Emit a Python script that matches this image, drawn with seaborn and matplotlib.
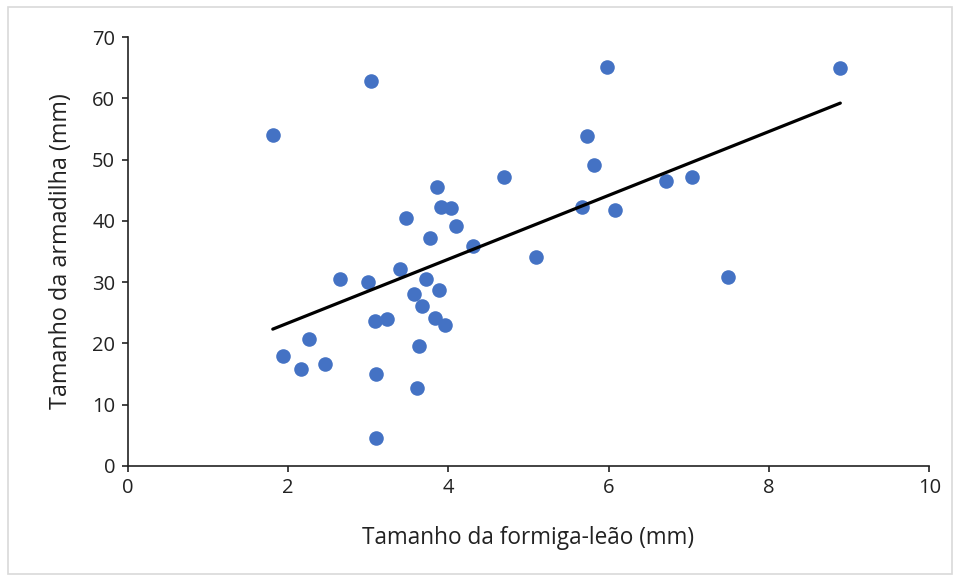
import numpy as np
import pandas as pd
import seaborn as sns
import matplotlib.pyplot as plt
from matplotlib.patches import Rectangle

# ant-lion body size vs trap size
formiga_mm = [1.81, 1.94, 2.16, 2.26, 2.46, 2.65, 3.00, 3.03, 3.08, 3.10,
              3.10, 3.23, 3.40, 3.47, 3.57, 3.61, 3.63, 3.67, 3.72, 3.77,
              3.84, 3.86, 3.88, 3.91, 3.96, 4.03, 4.10, 4.31, 4.69, 5.09,
              5.67, 5.73, 5.82, 5.98, 6.08, 6.72, 7.04, 7.49, 8.89]
armadilha_mm = [54.0, 18.0, 15.9, 20.7, 16.7, 30.5, 30.0, 62.8, 23.6, 15.0,
                4.6, 24.0, 32.1, 40.5, 28.1, 12.7, 19.6, 26.1, 30.5, 37.2,
                24.1, 45.6, 28.7, 42.3, 23.0, 42.1, 39.2, 35.9, 47.2, 34.1,
                42.3, 53.8, 49.1, 65.1, 41.8, 46.5, 47.2, 30.8, 64.9]

df = pd.DataFrame({'formiga': formiga_mm, 'armadilha': armadilha_mm})

sns.set_style('white')
plt.rcParams['font.family'] = ['Open Sans', 'DejaVu Sans']

fig = plt.figure(figsize=(9.6, 5.81), dpi=100)
ax = fig.add_axes([0.133, 0.198, 0.835, 0.738])

sns.regplot(data=df, x='formiga', y='armadilha', ci=None, ax=ax,
            scatter_kws={'s': 110, 'color': '#4472C4', 'alpha': 1, 'linewidths': 0},
            line_kws={'color': 'black', 'lw': 2.3})

ax.set_xlim(0, 10)
ax.set_ylim(0, 70)
ax.set_xticks(range(0, 11, 2))
ax.set_yticks(range(0, 71, 10))
ax.set_xlabel('Tamanho da formiga-leão (mm)', fontsize=16.3, labelpad=20, color='#222222')
ax.set_ylabel('Tamanho da armadilha (mm)', fontsize=16.8, labelpad=14, color='#222222')
ax.tick_params(axis='both', labelsize=14.5, direction='out', length=4, width=1.2,
               colors='#222222', left=True, bottom=True, pad=5)
sns.despine(ax=ax)
for s in ['left', 'bottom']:
    ax.spines[s].set_color('#222222')
    ax.spines[s].set_linewidth(1.2)

# chart area border
fig.patches.append(Rectangle((0.008, 0.012), 0.984, 0.976, transform=fig.transFigure,
                             fill=False, edgecolor='#d9d9d9', lw=1.2))

plt.savefig('out.png', dpi=100)
